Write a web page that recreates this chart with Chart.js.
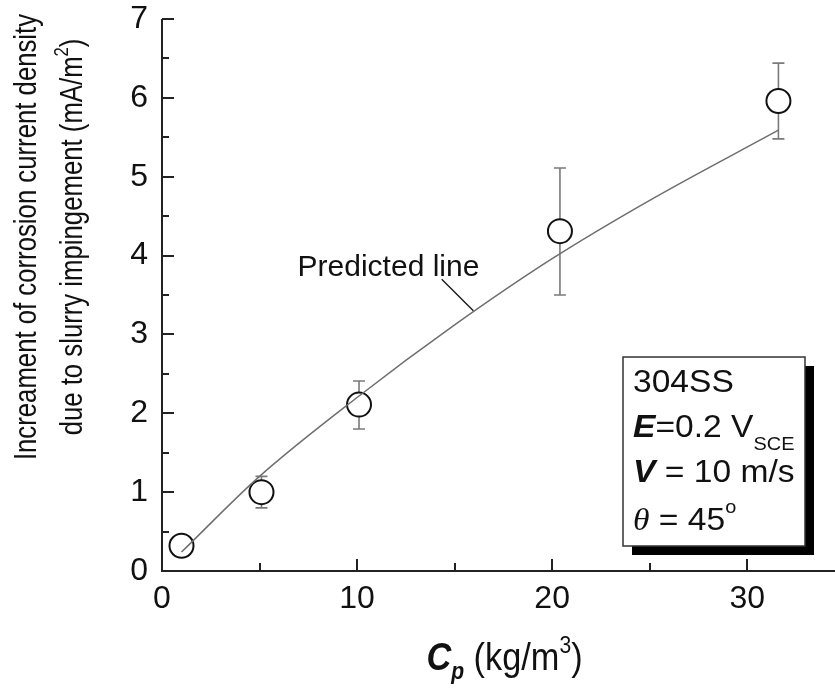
<!DOCTYPE html>
<html>
<head>
<meta charset="utf-8">
<script src="https://cdn.jsdelivr.net/npm/chart.js@4.4.1/dist/chart.umd.min.js"></script>
<style>
  html, body { margin: 0; padding: 0; background: #fff; }
  #wrap { width: 835px; height: 692px; }
</style>
</head>
<body>
<div id="wrap"><canvas id="chart" width="835" height="692"></canvas></div>
<script>
// measured points (Cp, increase of current density) + error bar ends
const cpValues = [1.0, 5.1, 10.1, 20.4, 31.6];
const currentRise = [0.32, 1.0, 2.11, 4.31, 5.96];
const errHigh = [0.44, 1.2, 2.41, 5.11, 6.44];
const errLow = [0.22, 0.8, 1.8, 3.5, 5.48];

// predicted curve
const predX = [1, 5, 10, 15, 20, 25, 31.6];
const predY = [0.24, 1.2, 2.2, 3.12, 3.96, 4.7, 5.59];

const xTickLabels = ['0', '10', '20', '30'];
const yTickLabels = ['0', '1', '2', '3', '4', '5', '6', '7'];

const FONT = "'Liberation Sans', Arial, sans-serif";
const SERIF = "'Liberation Serif', 'Times New Roman', serif";
const INK = '#111';

// draws a run of text pieces [text, font, dy], sx = horizontal squeeze
function drawRun(ctx, x, y, parts, sx) {
  let cx = x;
  parts.forEach(p => {
    ctx.save();
    ctx.font = p[1];
    ctx.translate(cx, y + (p[2] || 0));
    ctx.scale(sx, 1);
    ctx.fillText(p[0], 0, 0);
    cx += ctx.measureText(p[0]).width * sx;
    ctx.restore();
  });
  return cx - x;
}
function runWidth(ctx, parts, sx) {
  let w = 0;
  parts.forEach(p => { ctx.save(); ctx.font = p[1]; w += ctx.measureText(p[0]).width * sx; ctx.restore(); });
  return w;
}

const decorPlugin = {
  id: 'decor',
  beforeDatasetsDraw(chart) {
    const {ctx, scales: {x, y}} = chart;
    // error bars
    ctx.save();
    ctx.strokeStyle = '#7a7a7a';
    ctx.lineWidth = 1.6;
    cpValues.forEach((cp, i) => {
      const px = x.getPixelForValue(cp);
      const top = y.getPixelForValue(errHigh[i]);
      const bot = y.getPixelForValue(errLow[i]);
      ctx.beginPath();
      ctx.moveTo(px, top); ctx.lineTo(px, bot);
      ctx.moveTo(px - 6, top); ctx.lineTo(px + 6, top);
      ctx.moveTo(px - 6, bot); ctx.lineTo(px + 6, bot);
      ctx.stroke();
    });
    ctx.restore();
  },
  afterDraw(chart) {
    const {ctx, chartArea: ca, scales: {x, y}} = chart;
    ctx.save();
    // axes + inward ticks
    ctx.strokeStyle = '#222';
    ctx.lineWidth = 2;
    ctx.beginPath();
    ctx.moveTo(ca.left, ca.top); ctx.lineTo(ca.left, ca.bottom); ctx.lineTo(ca.right, ca.bottom);
    y.ticks.forEach(t => {
      const py = Math.round(y.getPixelForValue(t.value));
      const len = Number.isInteger(t.value) ? 12 : 7;
      ctx.moveTo(ca.left, py); ctx.lineTo(ca.left + len, py);
    });
    x.ticks.forEach(t => {
      if (t.value === 0 || t.value % 5 !== 0) return;
      const px = Math.round(x.getPixelForValue(t.value));
      const len = t.value % 10 === 0 ? 12 : 8;
      ctx.moveTo(px, ca.bottom); ctx.lineTo(px, ca.bottom - len);
    });
    ctx.stroke();

    ctx.fillStyle = INK;
    ctx.textBaseline = 'alphabetic';

    // y title, two rotated lines
    const l1 = [['Increament of corrosion current density', '31px ' + FONT]];
    const l2 = [['due to slurry impingement (mA/m', '31px ' + FONT], ['2', '20px ' + FONT, -14], [')', '31px ' + FONT]];
    [[l1, 36], [l2, 82]].forEach(([parts, bx]) => {
      ctx.save();
      ctx.translate(bx, 237);
      ctx.rotate(-Math.PI / 2);
      const w = runWidth(ctx, parts, 0.83);
      drawRun(ctx, -w / 2, 0, parts, 0.83);
      ctx.restore();
    });

    // x title
    const xt = [['C', 'italic bold 39px ' + FONT], ['p', 'italic bold 24px ' + FONT, 9],
      [' (kg/m', '39px ' + FONT], ['3', '24px ' + FONT, -17], [')', '39px ' + FONT]];
    const xw = runWidth(ctx, xt, 0.88);
    drawRun(ctx, (ca.left + ca.right) / 2 + 6 - xw / 2, 670, xt, 0.88);

    // predicted line label + leader
    ctx.font = '30px ' + FONT;
    ctx.fillText('Predicted line', x.getPixelForValue(6.95), y.getPixelForValue(3.735));
    ctx.strokeStyle = '#222';
    ctx.lineWidth = 1.5;
    ctx.beginPath();
    ctx.moveTo(x.getPixelForValue(14.34), y.getPixelForValue(3.70));
    ctx.lineTo(x.getPixelForValue(15.96), y.getPixelForValue(3.30));
    ctx.stroke();

    // info box with shadow
    const bx = {left: ca.right - 212, top: ca.bottom - 214, w: 182, h: 189};
    ctx.fillStyle = '#000';
    ctx.fillRect(bx.left + 9, bx.top + 9, bx.w, bx.h);
    ctx.fillStyle = '#fff';
    ctx.fillRect(bx.left, bx.top, bx.w, bx.h);
    ctx.strokeStyle = '#333';
    ctx.lineWidth = 1.5;
    ctx.strokeRect(bx.left, bx.top, bx.w, bx.h);
    ctx.fillStyle = INK;
    const tx = bx.left + 10;
    drawRun(ctx, tx, bx.top + 35, [['304SS', '32px ' + FONT]], 1.05);
    drawRun(ctx, tx, bx.top + 80, [['E', 'italic bold 32px ' + FONT], ['=0.2 V', '32px ' + FONT], ['SCE', '19px ' + FONT, 13]], 1.05);
    drawRun(ctx, tx, bx.top + 125, [['V', 'italic bold 32px ' + FONT], [' = 10 m/s', '32px ' + FONT]], 1.05);
    drawRun(ctx, tx, bx.top + 173, [['\u03b8', 'italic 32px ' + SERIF], [' = 45', '32px ' + FONT], ['o', '19px ' + FONT, -17]], 1.05);
    ctx.restore();
  }
};

new Chart('chart', {
  type: 'scatter',
  data: {
    datasets: [
      {
        type: 'line',
        label: 'Predicted line',
        data: predX.map((v, i) => ({x: v, y: predY[i]})),
        borderColor: '#6e6e6e',
        borderWidth: 1.5,
        pointRadius: 0,
        cubicInterpolationMode: 'monotone',
        fill: false,
        order: 0
      },
      {
        label: 'Measured',
        data: cpValues.map((v, i) => ({x: v, y: currentRise[i]})),
        pointStyle: 'circle',
        pointRadius: 12,
        borderWidth: 2,
        borderColor: '#111',
        backgroundColor: '#fff',
        order: 1
      }
    ]
  },
  options: {
    responsive: false,
    animation: false,
    layout: { autoPadding: false, padding: { top: 19, left: 0, right: 0, bottom: 0 } },
    plugins: { legend: { display: false }, tooltip: { enabled: false } },
    scales: {
      x: {
        type: 'linear',
        min: 0,
        max: 34.5,
        grid: { display: false, drawTicks: false },
        border: { display: false },
        afterFit: s => { s.height = 121; s.paddingLeft = 0; s.paddingRight = 0; },
        ticks: {
          stepSize: 5,
          includeBounds: false,
          autoSkip: false,
          maxRotation: 0,
          padding: 9,
          color: INK,
          font: { family: FONT, size: 32 },
          callback: v => xTickLabels.includes(String(v)) ? String(v) : ''
        }
      },
      y: {
        min: 0,
        max: 7,
        grid: { display: false, drawTicks: false },
        border: { display: false },
        afterFit: s => { s.width = 162; s.paddingTop = 0; s.paddingBottom = 0; },
        ticks: {
          stepSize: 0.5,
          autoSkip: false,
          padding: 14,
          color: INK,
          font: { family: FONT, size: 32 },
          callback: v => yTickLabels.includes(String(v)) ? String(v) : ''
        }
      }
    }
  },
  plugins: [decorPlugin]
});
</script>
</body>
</html>
